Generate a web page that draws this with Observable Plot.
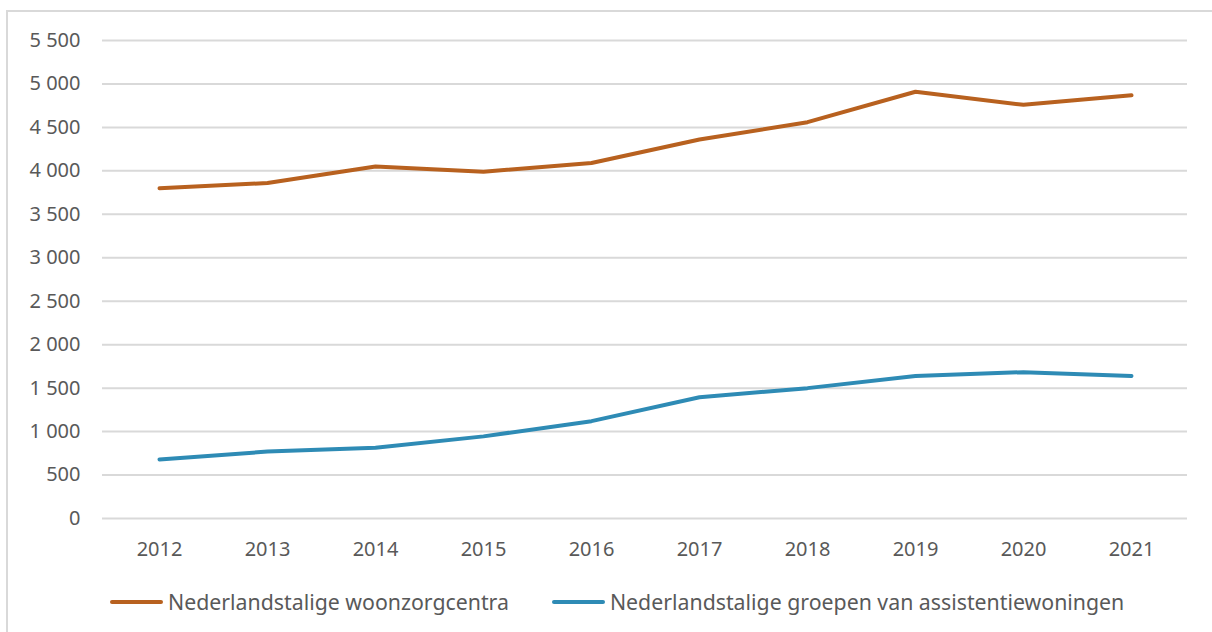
<!DOCTYPE html>
<html>
<head>
<meta charset="utf-8">
<script src="https://cdn.jsdelivr.net/npm/d3@7"></script>
<script src="https://cdn.jsdelivr.net/npm/@observablehq/plot@0.6"></script>
<style>
  html, body { margin: 0; padding: 0; background: #fff; width: 1212px; height: 632px; overflow: hidden; position: relative; }
  #frame { position: absolute; left: 6px; top: 10px; width: 1300px; height: 700px; border: 2px solid #d9d9d9; box-sizing: border-box; }
  #chart { position: absolute; left: 0; top: 0; }
  #legend { position: absolute; left: 110px; top: 587px; display: flex; align-items: center; font-family: "Noto Sans", sans-serif; font-size: 21.3px; color: #595959; }
  .item { display: flex; align-items: center; }
  .swatch { width: 53px; height: 4px; border-radius: 2px; margin-right: 5px; }
</style>
</head>
<body>
<div id="frame"></div>
<div id="chart"></div>
<div id="legend"></div>
<script>
const years = ["2012","2013","2014","2015","2016","2017","2018","2019","2020","2021"];
const seriesNames = ["Nederlandstalige woonzorgcentra", "Nederlandstalige groepen van assistentiewoningen"];
const woonzorgcentra = [3800, 3860, 4050, 3990, 4090, 4360, 4560, 4910, 4760, 4870];
const assistentiewoningen = [680, 770, 815, 945, 1120, 1395, 1500, 1640, 1684, 1640];
const colors = ["#b8611f", "#2e8bb5"];
const yTicks = [0, 500, 1000, 1500, 2000, 2500, 3000, 3500, 4000, 4500, 5000, 5500];

const data = [];
years.forEach((yr, i) => {
  data.push({year: yr, value: woonzorgcentra[i], series: seriesNames[0]});
  data.push({year: yr, value: assistentiewoningen[i], series: seriesNames[1]});
});

const fmt = d => d3.format(",")(d).replace(/,/g, " ");

const chart = Plot.plot({
  width: 1212,
  height: 570,
  marginLeft: 102,
  marginRight: 25,
  marginTop: 40,
  marginBottom: 52,
  style: { fontFamily: "'Noto Sans', sans-serif", fontSize: "20px", color: "#595959", background: "transparent" },
  x: { type: "point", domain: years, padding: 0.5, label: null },
  y: { domain: [0, 5500], ticks: yTicks, label: null },
  color: { domain: seriesNames, range: colors },
  marks: [
    Plot.ruleY(yTicks, { stroke: "#d9d9d9", strokeWidth: 2 }),
    Plot.axisY(yTicks, { tickSize: 0, tickPadding: 22, tickFormat: fmt, fill: "#595959", fontSize: 20, label: null }),
    Plot.axisX({ tickSize: 0, tickPadding: 23, fill: "#595959", fontSize: 20, label: null }),
    Plot.line(data, { x: "year", y: "value", z: "series", stroke: "series", strokeWidth: 4, strokeLinecap: "round", strokeLinejoin: "round" })
  ]
});
document.getElementById("chart").appendChild(chart);

const legend = document.getElementById("legend");
seriesNames.forEach((name, i) => {
  const item = document.createElement("div");
  item.className = "item";
  if (i > 0) item.style.marginLeft = "43px";
  const sw = document.createElement("div");
  sw.className = "swatch";
  sw.style.background = colors[i];
  const label = document.createElement("span");
  label.textContent = name;
  item.appendChild(sw);
  item.appendChild(label);
  legend.appendChild(item);
});
</script>
</body>
</html>
